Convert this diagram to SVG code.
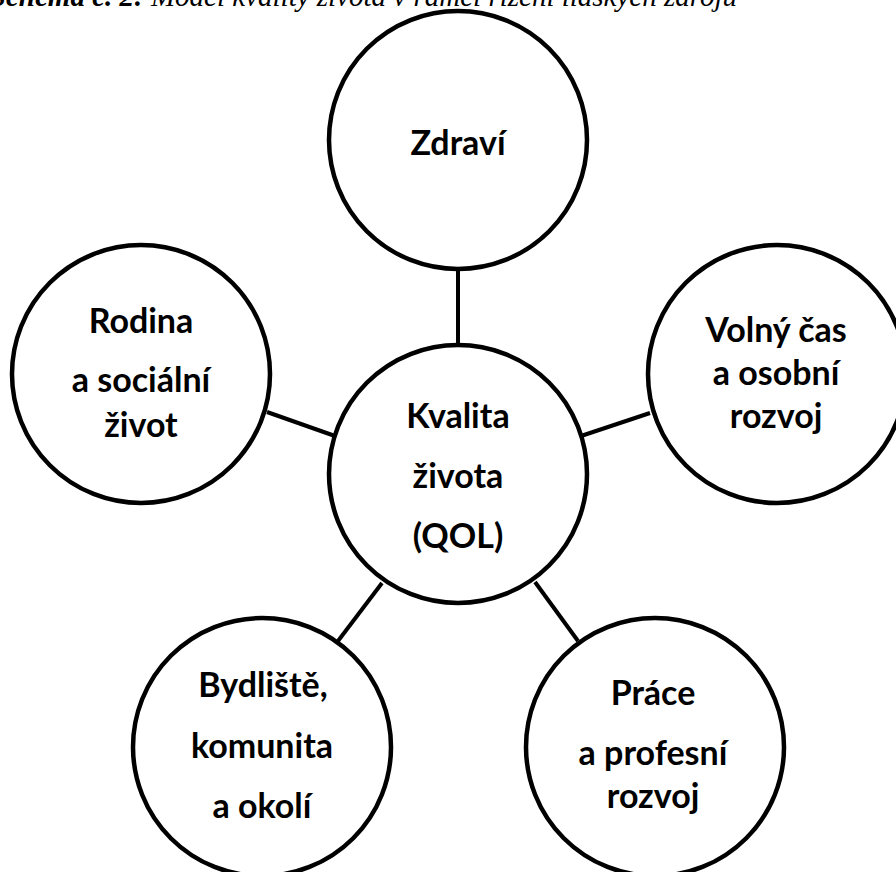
<svg xmlns="http://www.w3.org/2000/svg" width="896" height="872" viewBox="0 0 896 872">
<style>
.node circle{fill:#fff;stroke:#000;stroke-width:4.5}
.node text{font-family:Lato,"Open Sans","Liberation Sans",sans-serif;font-weight:bold;font-size:34px;fill:#000;text-anchor:middle}
#connectors line{stroke:#000;stroke-width:4}
.cap{font-family:"Liberation Serif",serif;font-style:italic;font-size:29px;fill:#000}
</style>
<rect width="896" height="872" fill="#fff"/>
<text class="cap" x="737" y="6" text-anchor="end"><tspan font-weight="bold">Schéma č. 2:</tspan> Model kvality života v rámci řízení lidských zdrojů</text>
<g id="connectors">
<line x1="458" y1="270" x2="458" y2="345"/>
<line x1="267" y1="412" x2="335" y2="436"/>
<line x1="581" y1="436" x2="650" y2="413"/>
<line x1="382" y1="583" x2="338" y2="641"/>
<line x1="535" y1="582" x2="578" y2="641"/>
</g>
<g id="n-zdravi" class="node"><circle cx="458" cy="140" r="129"/><text x="458" y="155">Zdraví</text></g>
<g id="n-qol" class="node"><circle cx="458" cy="474" r="129"/><text x="458" y="428">Kvalita</text><text x="458" y="488">života</text><text x="458" y="548">(QOL)</text></g>
<g id="n-rodina" class="node"><circle cx="141" cy="374" r="129"/><text x="141" y="333">Rodina</text><text x="141" y="392">a sociální</text><text x="141" y="437">život</text></g>
<g id="n-volny" class="node"><circle cx="777" cy="374" r="129"/><text x="776" y="342">Volný čas</text><text x="776" y="385">a osobní</text><text x="776" y="428">rozvoj</text></g>
<g id="n-bydliste" class="node"><circle cx="262" cy="747" r="129"/><text x="263" y="697">Bydliště,</text><text x="262" y="758">komunita</text><text x="262" y="818">a okolí</text></g>
<g id="n-prace" class="node"><circle cx="655" cy="747" r="129"/><text x="653" y="705">Práce</text><text x="653" y="765">a profesní</text><text x="653" y="808">rozvoj</text></g>
</svg>
